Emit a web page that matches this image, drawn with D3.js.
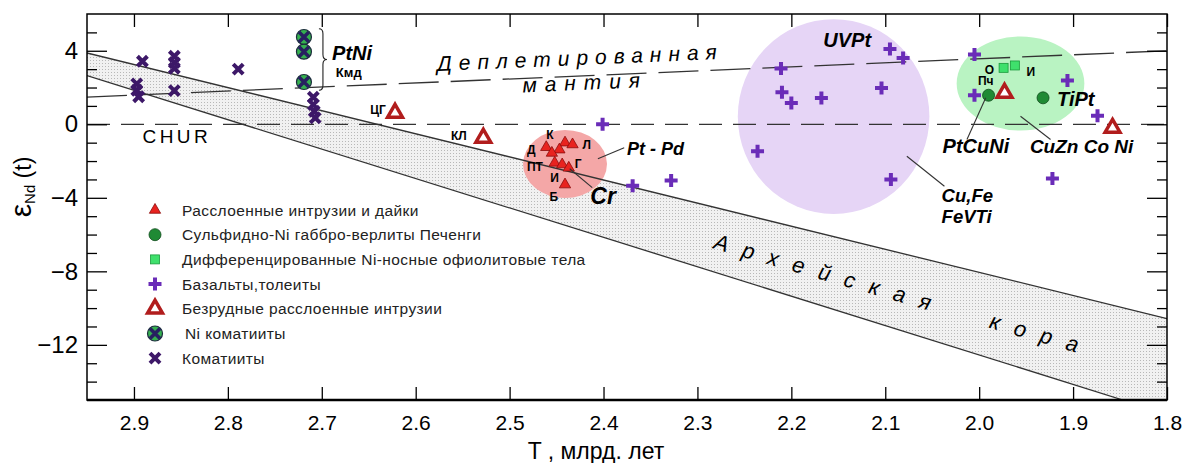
<!DOCTYPE html>
<html>
<head>
<meta charset="utf-8">
<script src="https://cdn.jsdelivr.net/npm/d3@7"></script>
<style>
body { margin: 0; background: #fff; }
svg text { font-family: "Liberation Sans", Arial, sans-serif; }
</style>
</head>
<body>
<div class="nd-figure"></div>
<script>
const w = 1186;
const h = 463;

// axis ticks
const xTicks = [2.9, 2.8, 2.7, 2.6, 2.5, 2.4, 2.3, 2.2, 2.1, 2.0, 1.9, 1.8];
const yMajor = [4, 0, -4, -8, -12];
const yMinor = [5, 3, 2, 1, -1, -2, -3, -5, -6, -7, -9, -10, -11, -13, -14];

// reference lines [T, eNd]
const depleted = [[2.95, 1.48], [1.8, 4.0]];
const chur = [[2.95, 0], [1.8, 0]];
const crustUpper = [[2.95, 3.88], [1.8, -10.57]];
const crustLower = [[2.95, 2.65], [1.847, -15]];

// point groups [T, eNd]
const layered = [[2.441, -1.0], [2.433, -1.1], [2.461, -1.25], [2.447, -1.38], [2.455, -1.56],
                 [2.452, -2.1], [2.444, -2.19], [2.437, -2.37], [2.441, -3.28]];
const sulfide = [[1.99, 1.58], [1.932, 1.44]];
const ophiolite = [[1.974, 3.07], [1.962, 3.2]];
const basalts = [[2.401, 0.0], [2.369, -3.34], [2.328, -3.06], [2.211, 3.03], [2.21, 1.74],
                 [2.2, 1.16], [2.168, 1.43], [2.236, -1.47], [2.095, 4.1], [2.081, 3.61],
                 [2.104, 1.98], [2.094, -3.01], [2.005, 3.79], [2.005, 1.58], [1.906, 2.38],
                 [1.874, 0.47], [1.922, -2.95]];
const barren = [[2.622, 0.62], [2.528, -0.74], [1.973, 1.71], [1.858, -0.2]];
const niKomatiites = [[2.719, 4.75], [2.719, 3.95], [2.719, 2.3]];
const komatiites = [[2.891, 3.43], [2.897, 2.2], [2.897, 1.85], [2.895, 1.5], [2.857, 3.7],
                    [2.857, 3.35], [2.857, 3.05], [2.857, 1.83], [2.789, 3.0], [2.709, 1.47],
                    [2.709, 1.07], [2.708, 0.71], [2.707, 0.35]];

// ore fields: centre and half-axes in data units [T, eNd, dT, dE]
const fieldPtPd = [2.441, -2.16, 0.0447, 1.85];
const fieldUVPt = [2.155, 0.42, 0.102, 5.3];
const fieldTiPt = [1.956, 2.22, 0.068, 2.56];

// small object labels [text, T, eNd]
const smallLabels = [["К", 2.457, -0.57], ["Л", 2.418, -1.1], ["Д", 2.477, -1.38], ["ПТ", 2.473, -2.3],
                     ["Г", 2.427, -2.14], ["И", 2.452, -2.9], ["Б", 2.453, -3.95],
                     ["ЦГ", 2.64, 0.8], ["КЛ", 2.554, -0.62],
                     ["О", 1.989, 2.98], ["И", 1.945, 2.87], ["Пч", 1.993, 2.34]];

// ore type labels [text, T, eNd]
const oreLabels = [["Pt - Pd", 2.375, -1.67], ["Cr", 2.414, -4.34], ["UVPt", 2.166, 4.2],
                   ["PtNi", 2.689, 3.5], ["TiPt", 1.917, 1.0], ["PtCuNi", 2.039, -1.56],
                   ["CuZn Co Ni", 1.946, -1.56], ["Cu,Fe", 2.04, -4.22], ["FeVTi", 2.04, -5.36]];

// leader lines [[T, eNd], [T, eNd]]
const leaders = [[[2.406, -1.88], [2.378, -1.28]], [[2.436, -2.42], [2.412, -3.45]],
                 [[1.993, 1.44], [2.013, -0.83]], [[1.956, 0.44], [1.924, -0.83]],
                 [[2.077, -1.74], [2.037, -3.37]]];

const legendTypes = ["tri", "dot", "sq", "plus", "hollow", "nikom", "kom"];
const legendLabels = ["Расслоенные интрузии и дайки",
                      "Сульфидно-Ni габбро-верлиты Печенги",
                      "Дифференцированные  Ni-носные офиолитовые тела",
                      "Базальты,толеиты",
                      "Безрудные расслоенные интрузии",
                      "Ni коматииты",
                      "Коматииты"];

let x = d3.scaleLinear().domain([2.95, 1.8]).range([87, 1167]);
let y = d3.scaleLinear().domain([-15, 6]).range([400, 14]);

let svg = d3.select("body").select(".nd-figure")
    .append("svg")
    .attr("width", w)
    .attr("height", h);

// dotted fill of the crust band
let pat = svg.append("defs").append("pattern")
    .attr("id", "dots")
    .attr("width", 3).attr("height", 3)
    .attr("patternUnits", "userSpaceOnUse");
pat.append("rect").attr("width", 3).attr("height", 3).attr("fill", "#f1f1f1");
pat.append("rect").attr("width", 1).attr("height", 1).attr("fill", "#b8b8b8");

svg.append("clipPath").attr("id", "plot")
    .append("rect").attr("x", 87).attr("y", 14).attr("width", 1080).attr("height", 386);

let plot = svg.append("g").attr("clip-path", "url(#plot)");

let line = d3.line().x(d => x(d[0])).y(d => y(d[1]));

// crust band
let band = crustUpper.concat([[1.8, -15]], crustLower.slice().reverse());
plot.append("path").attr("d", line(band) + "Z").attr("fill", "url(#dots)");

// fields
function field(f, color) {
    plot.append("ellipse")
        .attr("cx", x(f[0])).attr("cy", y(f[1]))
        .attr("rx", x(f[0] - f[2]) - x(f[0]))
        .attr("ry", y(f[1] - f[3]) - y(f[1]))
        .attr("fill", color);
}
field(fieldUVPt, "#e6d5f6");
field(fieldTiPt, "#b9f3c2");
field(fieldPtPd, "#f4a7a7");

plot.append("path").attr("d", line(crustUpper)).attr("stroke", "#333").attr("stroke-width", 1.3).attr("fill", "none");
plot.append("path").attr("d", line(crustLower)).attr("stroke", "#333").attr("stroke-width", 1.3).attr("fill", "none");
plot.append("path").attr("d", line(chur)).attr("stroke", "#333").attr("stroke-width", 1.3)
    .attr("stroke-dasharray", "23,11").attr("fill", "none");
plot.append("path").attr("d", line(depleted)).attr("stroke", "#333").attr("stroke-width", 1.3)
    .attr("stroke-dasharray", "40,12").attr("fill", "none");

// markers
function marker(g, type) {
    if (type == "tri") {
        g.append("path").attr("d", d3.symbol(d3.symbolTriangle, 55)())
            .attr("fill", "#e8231f").attr("stroke", "#8a0b0b").attr("stroke-width", 0.8);
    } else if (type == "dot") {
        g.append("circle").attr("r", 6).attr("fill", "#1f8a34").attr("stroke", "#0e4a1b").attr("stroke-width", 0.8);
    } else if (type == "sq") {
        g.append("rect").attr("x", -4.5).attr("y", -4.5).attr("width", 9).attr("height", 9)
            .attr("fill", "#3fe06c").attr("stroke", "#1b9a3c").attr("stroke-width", 0.8);
    } else if (type == "plus") {
        g.append("path").attr("d", "M-6.5,0H6.5M0,-6.5V6.5")
            .attr("stroke", "#6a2cb8").attr("stroke-width", 4);
    } else if (type == "hollow") {
        g.append("path").attr("d", d3.symbol(d3.symbolTriangle, 95)())
            .attr("fill", "#fff").attr("stroke", "#b11d1d").attr("stroke-width", 3.5)
            .attr("stroke-linejoin", "miter");
    } else if (type == "nikom") {
        g.append("circle").attr("r", 7.5).attr("fill", "#35b04f").attr("stroke", "#1c2c3c").attr("stroke-width", 1.2);
        g.append("path").attr("d", "M-5,-5L5,5M5,-5L-5,5")
            .attr("stroke", "#272060").attr("stroke-width", 3.6);
    } else if (type == "kom") {
        g.append("path").attr("d", "M-5,-5L5,5M5,-5L-5,5")
            .attr("stroke", "#3d1868").attr("stroke-width", 4);
    }
}

function points(data, type) {
    plot.selectAll(null)
        .data(data)
        .enter()
        .append("g")
        .attr("transform", d => "translate(" + x(d[0]) + "," + y(d[1]) + ")")
        .each(function() { marker(d3.select(this), type); });
}
points(komatiites, "kom");
points(niKomatiites, "nikom");
points(basalts, "plus");
points(ophiolite, "sq");
points(sulfide, "dot");
points(layered, "tri");
points(barren, "hollow");

// leader lines
svg.selectAll(".leader")
    .data(leaders)
    .enter()
    .append("path")
    .attr("d", d => line(d))
    .attr("stroke", "#333").attr("stroke-width", 1.1).attr("fill", "none");

// labels
svg.selectAll(".small")
    .data(smallLabels)
    .enter()
    .append("text")
    .attr("x", d => x(d[1])).attr("y", d => y(d[2]))
    .attr("text-anchor", "middle")
    .attr("dominant-baseline", "central")
    .attr("font-size", 12).attr("font-weight", "bold")
    .text(d => d[0]);

function oreSize(t) {
    if (t == "Cr") return 23;
    if (t == "Cu,Fe" || t == "FeVTi") return 18.5;
    if (t == "Pt - Pd") return 18;
    if (t == "CuZn Co Ni") return 19;
    return 20;
}
svg.selectAll(".ore")
    .data(oreLabels)
    .enter()
    .append("text")
    .attr("x", d => x(d[1])).attr("y", d => y(d[2]))
    .attr("font-size", d => oreSize(d[0]))
    .attr("font-style", "italic").attr("font-weight", "bold")
    .text(d => d[0]);

svg.append("text").attr("x", x(2.685)).attr("y", y(2.57))
    .attr("font-size", 13).attr("font-weight", "bold").text("Кмд");

// brace next to Ni komatiites
let bx = x(2.719) + 15;
let by1 = y(d3.max(niKomatiites, d => d[1]) + 0.45);
let by2 = y(d3.min(niKomatiites, d => d[1]) - 0.45);
let bm = (by1 + by2) / 2;
svg.append("path")
    .attr("d", "M" + bx + "," + by1 + "Q" + (bx + 4) + "," + by1 + " " + (bx + 4) + "," + (by1 + 5) +
        "V" + (bm - 5) + "Q" + (bx + 4) + "," + bm + " " + (bx + 8) + "," + bm +
        "Q" + (bx + 4) + "," + bm + " " + (bx + 4) + "," + (bm + 5) +
        "V" + (by2 - 5) + "Q" + (bx + 4) + "," + by2 + " " + bx + "," + by2)
    .attr("stroke", "#222").attr("stroke-width", 1.1).attr("fill", "none");

svg.append("text").attr("x", x(2.891)).attr("y", y(-1.02))
    .attr("font-size", 19).attr("letter-spacing", 3.5).text("CHUR");

// depleted mantle caption along the line
let dmAngle = Math.atan2(y(depleted[1][1]) - y(depleted[0][1]), x(depleted[1][0]) - x(depleted[0][0])) * 180 / Math.PI;
function dmPos(t, off) {
    let e = depleted[0][1] + (depleted[1][1] - depleted[0][1]) * (t - depleted[0][0]) / (depleted[1][0] - depleted[0][0]);
    return [x(t), y(e) + off];
}
let p1 = dmPos(2.577, -11);
svg.append("text")
    .attr("transform", "translate(" + p1[0] + "," + p1[1] + ") rotate(" + dmAngle + ")")
    .attr("font-size", 21).attr("font-style", "italic").attr("letter-spacing", 7)
    .text("Деплетированная");
let p2 = dmPos(2.486, 14);
svg.append("text")
    .attr("transform", "translate(" + p2[0] + "," + p2[1] + ") rotate(" + dmAngle + ")")
    .attr("font-size", 21).attr("font-style", "italic").attr("letter-spacing", 7.9)
    .text("мантия");

// archean crust caption
let cAngle = 16;
svg.append("text")
    .attr("transform", "translate(" + x(2.284) + "," + y(-6.75) + ") rotate(" + cAngle + ")")
    .attr("font-size", 22).attr("font-style", "italic").attr("letter-spacing", 14.8)
    .attr("word-spacing", 26)
    .text("Архейская кора");

// axes
function styleAxis(g) {
    g.attr("font-family", null);
    g.select(".domain").remove();
    g.selectAll(".tick line").attr("stroke", "#000").attr("stroke-width", 1.3);
    g.selectAll("text").attr("fill", "#000");
}

svg.append("g").attr("transform", "translate(0,400)")
    .call(d3.axisBottom(x).tickValues(xTicks).tickSize(-13).tickPadding(15).tickFormat(d3.format(".1f")))
    .call(styleAxis)
    .selectAll("text").attr("font-size", 21);

svg.append("g").attr("transform", "translate(0,14)")
    .call(d3.axisTop(x).tickValues(xTicks).tickSize(-13).tickFormat(""))
    .call(styleAxis);

svg.append("g").attr("transform", "translate(87,0)")
    .call(d3.axisLeft(y).tickValues(yMajor).tickSize(-20).tickPadding(9).tickFormat(d3.format("d")))
    .call(styleAxis)
    .selectAll("text").attr("font-size", 24);
svg.append("g").attr("transform", "translate(87,0)")
    .call(d3.axisLeft(y).tickValues(yMinor).tickSize(-10).tickFormat(""))
    .call(styleAxis);
svg.append("g").attr("transform", "translate(1167,0)")
    .call(d3.axisRight(y).tickValues(yMajor).tickSize(-20).tickFormat(""))
    .call(styleAxis);
svg.append("g").attr("transform", "translate(1167,0)")
    .call(d3.axisRight(y).tickValues(yMinor).tickSize(-10).tickFormat(""))
    .call(styleAxis);

// frame
svg.append("rect").attr("x", 87).attr("y", 14).attr("width", 1080).attr("height", 386)
    .attr("fill", "none").attr("stroke", "#000").attr("stroke-width", 1.5);
svg.append("line").attr("x1", 87).attr("x2", 1167).attr("y1", 400).attr("y2", 400)
    .attr("stroke", "#000").attr("stroke-width", 2.5);

// axis titles
svg.append("text").attr("x", 596).attr("y", 459).attr("text-anchor", "middle")
    .attr("font-size", 23).text("T , млрд. лет");

let yt = svg.append("text").attr("transform", "translate(31,187) rotate(-90)")
    .attr("text-anchor", "middle");
yt.append("tspan").attr("font-size", 30).text("ε");
yt.append("tspan").attr("font-size", 15).attr("dy", 4).text("Nd");
yt.append("tspan").attr("font-size", 23).attr("dy", -4).text(" (t)");

// legend
let legend = svg.append("g");
legendLabels.forEach((lab, i) => {
    let ly = 210 + i * 24.7;
    let g = legend.append("g").attr("transform", "translate(155," + ly + ")");
    marker(g, legendTypes[i]);
    legend.append("text")
        .attr("x", legendTypes[i] == "nikom" ? 185 : 182)
        .attr("y", ly)
        .attr("dominant-baseline", "central")
        .attr("font-size", 15.5)
        .attr("letter-spacing", 0.4)
        .attr("fill", "#222")
        .text(lab);
});
</script>
</body>
</html>
